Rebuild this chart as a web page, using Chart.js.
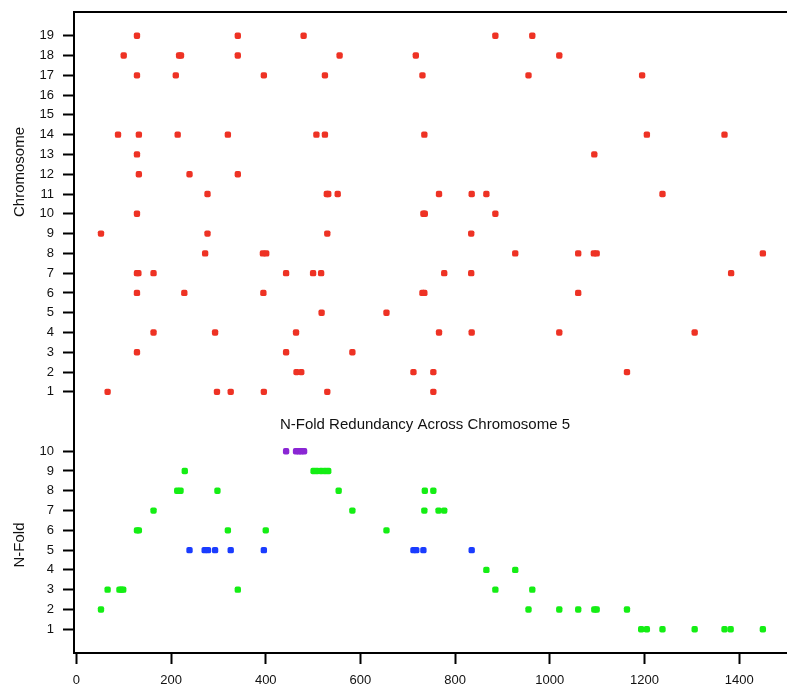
<!DOCTYPE html>
<html>
<head>
<meta charset="utf-8">
<script src="https://cdn.jsdelivr.net/npm/chart.js@4.4.1/dist/chart.umd.min.js"></script>
<style>
html,body{margin:0;padding:0;background:#fff;}
#wrap{width:787px;height:693px;position:relative;}
</style>
</head>
<body>
<div id="wrap"><canvas id="c" width="787" height="693"></canvas></div>
<script>
// ---- data (positions along chromosome 5) ----
const chr1  = [66, 297, 326, 396, 530, 754];
const chr2  = [465, 475, 712, 754, 1163];
const chr3  = [128, 443, 583];
const chr4  = [163, 293, 464, 766, 835, 1020, 1306];
const chr5  = [518, 655];
const chr6  = [128, 228, 395, 731, 735, 1060];
const chr7  = [128, 131, 163, 443, 500, 517, 777, 834, 1383];
const chr8  = [272, 394, 401, 927, 1060, 1093, 1099, 1450];
const chr9  = [52, 277, 530, 834];
const chr10 = [128, 733, 736, 885];
const chr11 = [277, 529, 532, 552, 766, 835, 866, 1238];
const chr12 = [132, 239, 341];
const chr13 = [128, 1094];
const chr14 = [88, 132, 214, 320, 507, 525, 735, 1205, 1369];
const chr15 = [];
const chr16 = [];
const chr17 = [128, 210, 396, 525, 731, 955, 1195];
const chr18 = [100, 217, 221, 341, 556, 717, 1020];
const chr19 = [128, 341, 480, 885, 963];
const chromosomeNames = [1,2,3,4,5,6,7,8,9,10,11,12,13,14,15,16,17,18,19];
const chromosomeData = [chr1,chr2,chr3,chr4,chr5,chr6,chr7,chr8,chr9,chr10,chr11,chr12,chr13,chr14,chr15,chr16,chr17,chr18,chr19];

// N-fold redundancy: positions for each fold count
const fold1  = [1193, 1205, 1238, 1306, 1369, 1382, 1450];
const fold2  = [52, 955, 1020, 1060, 1094, 1099, 1163];
const fold3  = [66, 91, 95, 99, 341, 885, 963];
const fold4  = [866, 927];
const fold5  = [239, 271, 278, 293, 326, 396, 712, 718, 733, 835];
const fold6  = [128, 132, 320, 400, 655];
const fold7  = [163, 583, 735, 765, 777];
const fold8  = [213, 220, 298, 554, 736, 754];
const fold9  = [229, 501, 508, 517, 525, 532];
const fold10 = [443, 464, 470, 475, 481];
const foldValues = [1,2,3,4,5,6,7,8,9,10];
const foldData = [fold1,fold2,fold3,fold4,fold5,fold6,fold7,fold8,fold9,fold10];

const xTickValues = [0, 200, 400, 600, 800, 1000, 1200, 1400];
const CHROM_OFFSET = 12; // chromosome panel sits above the N-fold panel on the shared axis

const RED = '#ee3224', GREEN = '#14ee14', BLUE = '#1a3cff', PURPLE = '#8a26d4';

const redPts = [];
chromosomeData.forEach((arr, i) => arr.forEach(x => redPts.push({x: x, y: chromosomeNames[i] + CHROM_OFFSET})));
const greenPts = [], bluePts = [], purplePts = [];
foldData.forEach((arr, i) => arr.forEach(x => {
  const n = foldValues[i];
  const p = {x: x, y: n};
  if (n === 5) bluePts.push(p); else if (n === 10) purplePts.push(p); else greenPts.push(p);
}));

const yTickValues = foldValues.concat(chromosomeNames.map(c => c + CHROM_OFFSET));

const ptOpts = {pointStyle: 'rectRounded', pointRadius: 3.7, pointHoverRadius: 3.7, borderWidth: 0, showLine: false};

const FONT = '"Liberation Sans", Arial, Helvetica, sans-serif';

const decor = {
  id: 'decor',
  afterDraw(chart) {
    const ctx = chart.ctx, a = chart.chartArea;
    ctx.save();
    ctx.strokeStyle = '#000';
    ctx.lineWidth = 2;
    ctx.beginPath();
    ctx.moveTo(a.left - 1, a.top);
    ctx.lineTo(chart.width, a.top);
    ctx.stroke();
    ctx.fillStyle = '#111';
    ctx.font = '15px ' + FONT;
    ctx.textAlign = 'center';
    ctx.textBaseline = 'middle';
    ctx.fillText('N-Fold Redundancy Across Chromosome 5', 425, 425);
    ctx.translate(20, 172);
    ctx.rotate(-Math.PI / 2);
    ctx.fillText('Chromosome', 0, 0);
    ctx.restore();
    ctx.save();
    ctx.fillStyle = '#111';
    ctx.font = '15px ' + FONT;
    ctx.textAlign = 'center';
    ctx.textBaseline = 'middle';
    ctx.translate(20, 545);
    ctx.rotate(-Math.PI / 2);
    ctx.fillText('N-Fold', 0, 0);
    ctx.restore();
  }
};

new Chart(document.getElementById('c'), {
  type: 'scatter',
  data: {
    datasets: [
      Object.assign({label: 'chromosome', data: redPts, backgroundColor: RED, pointBackgroundColor: RED}, ptOpts),
      Object.assign({label: 'n-fold', data: greenPts, backgroundColor: GREEN, pointBackgroundColor: GREEN}, ptOpts),
      Object.assign({label: '5-fold', data: bluePts, backgroundColor: BLUE, pointBackgroundColor: BLUE}, ptOpts),
      Object.assign({label: '10-fold', data: purplePts, backgroundColor: PURPLE, pointBackgroundColor: PURPLE}, ptOpts)
    ]
  },
  options: {
    responsive: false,
    animation: false,
    events: [],
    layout: {autoPadding: false, padding: {top: 12, right: 0, bottom: 0, left: 0}},
    plugins: {legend: {display: false}, tooltip: {enabled: false}, title: {display: false}},
    scales: {
      x: {
        type: 'linear', min: -5, max: 1501,
        afterBuildTicks: s => { s.ticks = xTickValues.map(v => ({value: v})); },
        afterFit: s => { s.height = 40; s.paddingLeft = 0; s.paddingRight = 0; },
        border: {display: true, color: '#000', width: 2},
        grid: {display: true, drawOnChartArea: false, drawTicks: true, tickLength: 11, tickWidth: 2, tickColor: '#000'},
        ticks: {color: '#111', font: {family: FONT, size: 13}, padding: 9, maxRotation: 0, autoSkip: false,
          callback: v => String(v)}
      },
      y: {
        type: 'linear', min: -0.2, max: 32.2,
        afterBuildTicks: s => { s.ticks = yTickValues.map(v => ({value: v})); },
        afterFit: s => { s.width = 74; s.paddingTop = 0; s.paddingBottom = 0; },
        border: {display: true, color: '#000', width: 2},
        grid: {display: true, drawOnChartArea: false, drawTicks: true, tickLength: 11, tickWidth: 2, tickColor: '#000'},
        ticks: {color: '#111', font: {family: FONT, size: 13}, padding: 9, autoSkip: false,
          callback: v => String(v > CHROM_OFFSET ? v - CHROM_OFFSET : v)}
      }
    }
  },
  plugins: [decor]
});
</script>
</body>
</html>
